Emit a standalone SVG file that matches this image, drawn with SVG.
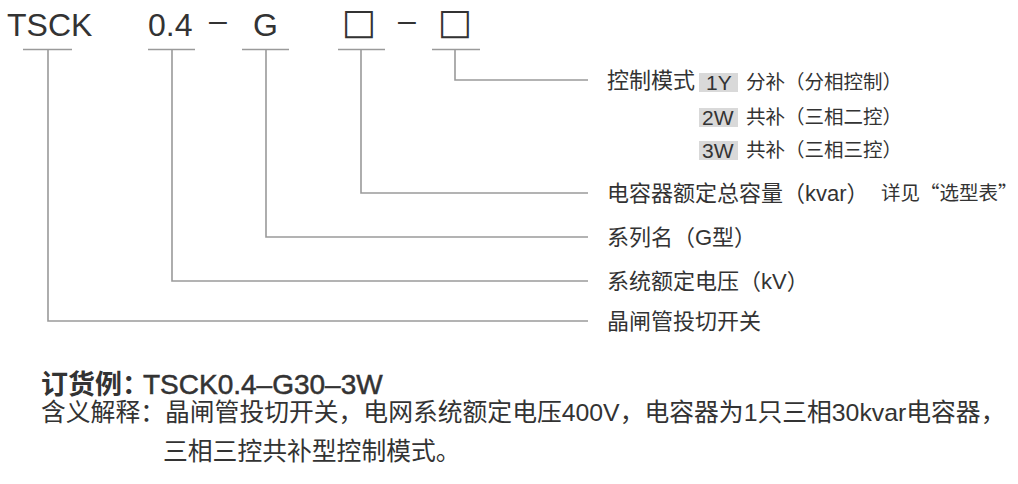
<svg xmlns="http://www.w3.org/2000/svg" width="1018" height="484" viewBox="0 0 1018 484">
<style>
.hd{font-family:"Liberation Sans","Noto Sans CJK SC",sans-serif;font-size:32px;fill:#333}
.bx{font-family:"DejaVu Sans",sans-serif;font-size:36px;fill:#333}
.lb{font-family:"Liberation Sans","Noto Sans CJK SC",sans-serif;font-size:22px;fill:#333}
.sub{font-family:"Liberation Sans","Noto Sans CJK SC",sans-serif;font-size:19.5px;fill:#333}
.cjk{font-family:"Noto Sans CJK SC",sans-serif}
.code{font-family:"Liberation Sans",sans-serif;font-size:21px;fill:#333}
.tag{fill:#d9d9d9}
.ln{fill:none;stroke:#9a9a9a;stroke-width:1.6}
.b1{font-family:"Noto Sans CJK SC",sans-serif;font-size:27px;font-weight:bold;fill:#333}
.b1l{font-family:"Liberation Sans",sans-serif;font-size:28px;fill:#333;stroke:#333;stroke-width:0.5}
.b2{font-family:"Liberation Sans","Noto Sans CJK SC",sans-serif;font-size:24.8px;fill:#333}
</style>
<rect width="1018" height="484" fill="#fff"/>
<g id="header">
<text class="hd" x="7" y="36">TSCK</text>
<text class="hd" x="148" y="36">0.4</text>
<text class="hd" x="209" y="31">–</text>
<text class="hd" x="253" y="36">G</text>
<text class="bx" x="342" y="34">□</text>
<text class="hd" x="398" y="31">–</text>
<text class="bx" x="438" y="34">□</text>
</g>
<g id="connectors">
<path class="ln" d="M23 49.5H72M48 49.5V321H588"/>
<path class="ln" d="M148 49.5H195M172 49.5V281H588"/>
<path class="ln" d="M242 49.5H289M266 49.5V237H588"/>
<path class="ln" d="M338 49.5H385M361 49.5V193H588"/>
<path class="ln" d="M432 49.5H480M455 49.5V80H588"/>
</g>
<g id="control-mode">
<text class="lb" x="607" y="88">控制模式</text>
<rect class="tag" x="699" y="73" width="39" height="19"/>
<text class="code" x="706" y="90">1Y</text>
<text class="sub" x="746" y="89">分补（分相控制）</text>
<rect class="tag" x="699" y="108" width="39" height="19"/>
<text class="code" x="702" y="125">2W</text>
<text class="sub" x="746" y="124">共补（三相二控）</text>
<rect class="tag" x="699" y="141" width="39" height="19"/>
<text class="code" x="702" y="158">3W</text>
<text class="sub" x="746" y="157">共补（三相三控）</text>
</g>
<g id="capacity">
<text class="lb" x="607" y="201">电容器额定总容量（kvar）</text>
<text class="sub cjk" x="881" y="200">详见“选型表”</text>
</g>
<g id="series">
<text class="lb" x="607" y="245">系列名（G型）</text>
</g>
<g id="voltage">
<text class="lb" x="607" y="289">系统额定电压（kV）</text>
</g>
<g id="switch">
<text class="lb" x="607" y="329">晶闸管投切开关</text>
</g>
<g id="example">
<text x="41" y="394"><tspan class="b1">订货例：</tspan><tspan class="b1l" x="143">TSCK0.4–G30–3W</tspan></text>
<text class="b2" x="41" y="421">含义解释：晶闸管投切开关，电网系统额定电压400V，电容器为1只三相30kvar电容器，</text>
<text class="b2" x="163" y="460">三相三控共补型控制模式。</text>
</g>
</svg>
